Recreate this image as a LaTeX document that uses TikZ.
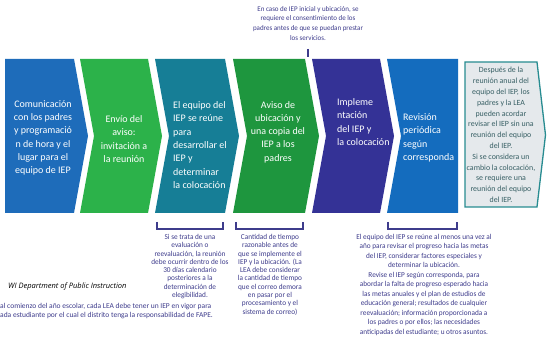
\documentclass[tikz,border=0pt]{standalone}
\usepackage{fontspec}
\setmainfont{Carlito}
\newfontfamily\notefont[FakeStretch=0.97]{Carlito}
\newfontfamily\deptfont{Open Sans}

\definecolor{stepone}{RGB}{30,108,186}
\definecolor{steptwo}{RGB}{44,178,74}
\definecolor{stepthree}{RGB}{22,126,150}
\definecolor{stepfour}{RGB}{30,150,62}
\definecolor{stepfive}{RGB}{52,50,150}
\definecolor{stepsix}{RGB}{20,108,190}
\definecolor{reviewfill}{RGB}{229,233,236}
\definecolor{reviewline}{RGB}{40,140,145}
\definecolor{reviewtext}{RGB}{55,95,100}
\definecolor{noteblue}{RGB}{62,60,140}

\begin{document}
\begin{tikzpicture}[x=1pt,y=-1pt,
  steptext/.style={text=white,font=\fontsize{10}{13.3}\selectfont,inner sep=0pt},
  notetext/.style={text=noteblue,font=\notefont\fontsize{7.5}{8.3}\selectfont,align=center,inner sep=0pt},
  bracket/.style={draw=noteblue,line width=1.1pt}]
  \useasboundingbox (0,0) rectangle (547,347);
  \fill[white] (0,0) rectangle (547,347);

  % the six steps
  \fill[stepone] (5,59) -- (74,59) -- (88,136) -- (74,213) -- (5,213) -- cycle;
  \fill[steptwo] (80,59) -- (148,59) -- (162,136) -- (148,213) -- (80,213) -- (94,136) -- cycle;
  \fill[stepthree] (155,59) -- (225,59) -- (239,136) -- (225,213) -- (155,213) -- (169,136) -- cycle;
  \fill[stepfour] (233,59) -- (305,59) -- (319,136) -- (305,213) -- (233,213) -- (247,136) -- cycle;
  \fill[stepfive] (312,59) -- (380,59) -- (394,136) -- (380,213) -- (312,213) -- (326,136) -- cycle;
  \fill[stepsix] (387,59) -- (458,59) -- (458,213) -- (387,213) -- (401,136) -- cycle;
  \draw[fill=reviewfill,draw=reviewline,line width=1.3pt]
    (465,62) -- (537,62) -- (545.5,135) -- (537,207) -- (465,207) -- cycle;

  \node[steptext,align=center] (contact) at (43,138) {Comunicación\\con los padres\\y programació\\n de hora y el\\lugar para el\\equipo de IEP};
  \node[steptext,align=center] (invite) at (124,139) {Envío del\\aviso:\\invitación a\\la reunión};
  \node[steptext,align=left,anchor=west] (meeting) at (173,145) {El equipo del\\IEP se reúne\\para\\desarrollar el\\IEP y\\determinar\\la colocación};
  \node[steptext,align=center] (notice) at (278,132) {Aviso de\\ubicación y\\una copia del\\IEP a los\\padres};
  \node[steptext,align=left,anchor=west] (implement) at (337,122) {Impleme\\ntación\\del IEP y\\la colocación};
  \node[steptext,align=left,anchor=west] (review) at (403,138) {Revisión\\periódica\\según\\corresponda};
  \node[text=reviewtext,font=\fontsize{7.9}{10.8}\selectfont,align=center,inner sep=0pt] (annual) at (501,135)
    {Después de la\\reunión anual del\\equipo del IEP, los\\padres y la LEA\\pueden acordar\\revisar el IEP sin una\\reunión del equipo\\del IEP.\\Si se considera un\\cambio la colocación,\\se requiere una\\reunión del equipo\\del IEP.};

  % consent note
  \node[notetext,font=\notefont\fontsize{7.2}{9.7}\selectfont,anchor=north] (consent) at (308,6)
    {En caso de IEP inicial y ubicación, se\\requiere el consentimiento de los\\padres antes de que se puedan prestar\\los servicios.};
  \coordinate (ticktop) at (308,49);
  \coordinate (tickend) at (308,57);
  \draw[bracket] (ticktop) -- (tickend);

  % brackets under the steps
  \draw[bracket] (157,222) -- (157,229) -- (223,229) -- (223,222);
  \draw[bracket] (236,222) -- (236,229) -- (303,229) -- (303,222);
  \draw[bracket] (388,222) -- (388,229) -- (457,229) -- (457,222);

  \node[notetext,anchor=north] (eligibility) at (190,234)
    {Si se trata de una\\evaluación o\\reevaluación, la reunión\\debe ocurrir dentro de los\\30 días calendario\\posteriores a la\\determinación de\\elegibilidad.};
  \node[notetext,anchor=north] (mailtime) at (270,234)
    {Cantidad de tiempo\\razonable antes de\\que se implemente el\\IEP y la ubicación. (La\\LEA debe considerar\\la cantidad de tiempo\\que el correo demora\\en pasar por el\\procesamiento y el\\sistema de correo)};
  \node[notetext,font=\notefont\fontsize{7.5}{9.5}\selectfont,anchor=north] (yearly) at (424,234)
    {El equipo del IEP se reúne al menos una vez al\\año para revisar el progreso hacia las metas\\del IEP, considerar factores especiales y\\determinar la ubicación.\\Revise el IEP según corresponda, para\\abordar la falta de progreso esperado hacia\\las metas anuales y el plan de estudios de\\educación general; resultados de cualquier\\reevaluación; información proporcionada a\\los padres o por ellos; las necesidades\\anticipadas del estudiante; u otros asuntos.};

  % source and footnote
  \node[anchor=west,inner sep=0pt,font=\deptfont\itshape\fontsize{7.5}{9}\selectfont] (source) at (8,287) {WI Department of Public Instruction};
  \node[anchor=west,inner sep=0pt,align=left,text=noteblue,font=\fontsize{7.5}{9}\selectfont] (footnote) at (0,311)
    {al comienzo del año escolar, cada LEA debe tener un IEP en vigor para\\ada estudiante por el cual el distrito tenga la responsabilidad de FAPE.};
\end{tikzpicture}
\end{document}
